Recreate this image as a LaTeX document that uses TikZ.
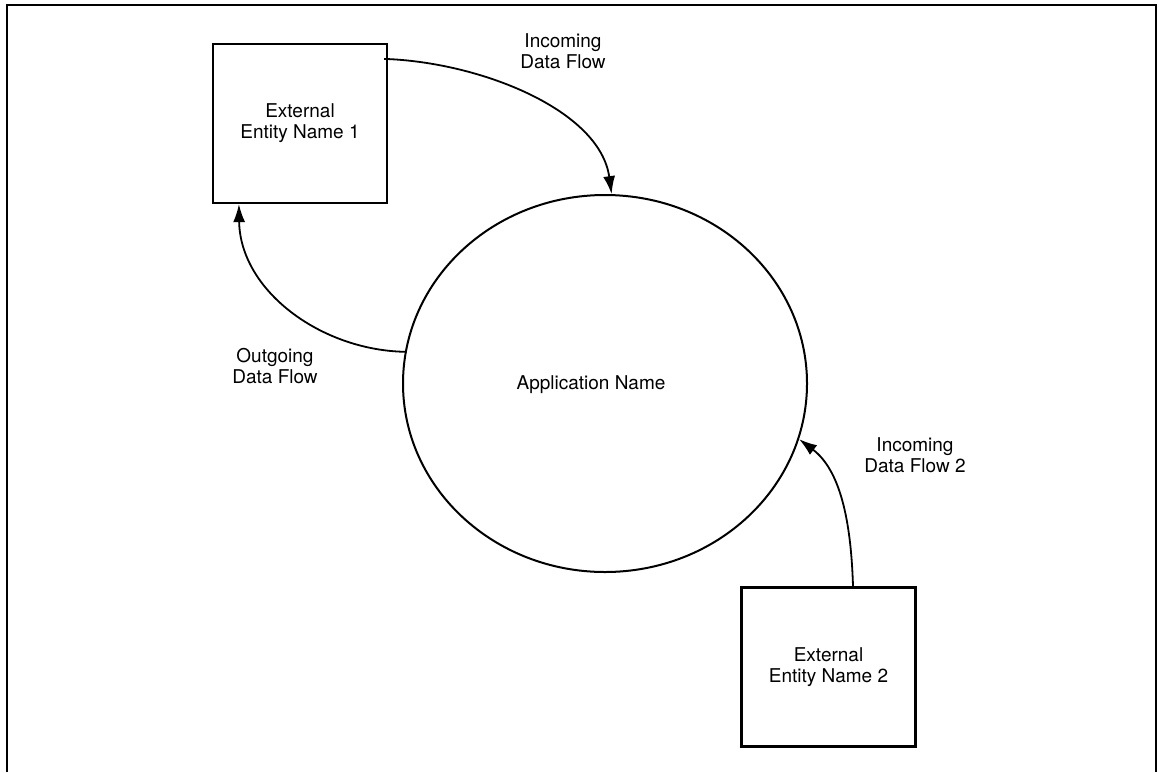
\documentclass[tikz,border=0pt]{standalone}
\usepackage{fontspec}
\setmainfont{TeX Gyre Heros}
\usetikzlibrary{shapes.geometric,arrows.meta}
\begin{document}
\begin{tikzpicture}[
  x=0.5pt, y=-0.5pt,
  line cap=butt, line join=miter,
  every node/.style={inner sep=0pt, align=center, font=\fontsize{9.5pt}{10.5pt}\selectfont},
  entity/.style={draw, line width=1.1pt, minimum width=87pt, minimum height=79.5pt},
  process/.style={draw, ellipse, line width=1pt, minimum width=202pt, minimum height=188.5pt},
  flow/.style={line width=0.9pt, -{Latex[length=9pt,width=6pt]}}
]
  \useasboundingbox (0,0) rectangle (1159,772);
  % ---- 外框（底边开口） ----
  \draw[line width=1.1pt] (7,772) -- (7,5) -- (1156,5) -- (1156,772);
  % ---- 外部实体与应用 ----
  \node[entity] (ent1) at (300,123.5) {External\\Entity Name 1};
  \node[entity] (ent2) at (828.5,667) {External\\Entity Name 2};
  \node[process] (app) at (605,383.5) {};
  \node (appname) at (591,385) {Application Name};
  % ---- 数据流 ----
  \draw[flow] ([xshift=-2pt,yshift=-8pt]ent1.north east)
    .. controls (480,62) and (600,110) .. (app.88);
  \draw[flow] (app.171)
    .. controls (320,350) and (240,290) .. ([xshift=13.5pt]ent1.south west);
  \draw[flow] ([xshift=12.25pt]ent2.north)
    .. controls (851,520) and (840,470) .. (app.-16);
  % ---- 标签 ----
  \node (in1)  at (563,51)  {Incoming\\Data Flow};
  \node (out1) at (275,366) {Outgoing\\Data Flow};
  \node (in2)  at (915,455) {Incoming\\Data Flow 2};
\end{tikzpicture}
\end{document}
